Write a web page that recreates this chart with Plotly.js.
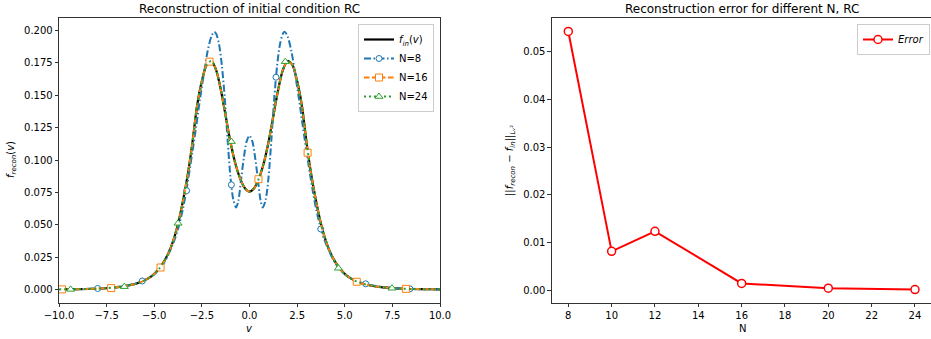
<!DOCTYPE html>
<html>
<head>
<meta charset="utf-8">
<script src="https://cdn.plot.ly/plotly-3.0.1.min.js"></script>
<style>html,body{margin:0;padding:0;background:#fff;}#chart{width:931px;height:339px;}</style>
</head>
<body>
<div id="chart"></div>
<script>
// ---- data ----
// reference distribution f_in(v)
const vIn = [-10,-9.5,-9,-8.5,-8,-7.5,-7,-6.5,-6,-5.75,-5.5,-5.25,-5,-4.75,-4.5,-4.25,-4,-3.75,-3.5,-3.25,-3,-2.75,-2.5,-2.25,-2,-1.75,-1.5,-1.25,-1,-0.75,-0.5,-0.25,0,
             0.25,0.5,0.75,1,1.25,1.5,1.75,2,2.25,2.5,2.75,3,3.25,3.5,3.75,4,4.25,4.5,4.75,5,5.25,5.5,5.75,6,6.5,7,7.5,8,8.5,9,9.5,10];
const fIn = [0.0003,0.0004,0.0005,0.0006,0.0009,0.0013,0.0019,0.0029,0.0045,0.0057,0.0073,0.0094,0.0123,0.0162,0.0215,0.0285,0.0380,0.0510,0.0680,0.0880,0.1130,0.1420,0.1610,0.1735,0.1765,0.1695,0.1540,0.1340,0.1140,0.0978,0.0862,0.0785,0.0757,
             0.0785,0.0862,0.0978,0.1140,0.1340,0.1540,0.1695,0.1765,0.1735,0.1610,0.1420,0.1130,0.0880,0.0680,0.0510,0.0380,0.0285,0.0215,0.0162,0.0123,0.0094,0.0073,0.0057,0.0045,0.0029,0.0019,0.0013,0.0009,0.0006,0.0005,0.0004,0.0003];
// N=8 reconstruction
const v8 = [-10,-9,-8,-7,-6.1,-5.6,-5,-4.5,-4,-3.75,-3.5,-3.3,-3,-2.8,-2.6,-2.4,-2.2,-2,-1.85,-1.75,-1.6,-1.45,-1.3,-1.15,-1,-0.85,-0.7,-0.58,-0.45,-0.3,-0.15,0,
            0.15,0.3,0.45,0.58,0.7,0.85,1,1.15,1.3,1.45,1.6,1.75,1.85,2,2.2,2.4,2.6,2.8,3,3.3,3.5,3.75,4,4.5,5,5.6,6.1,7,8,9,10];
const f8 = [0.0003,0.0005,0.0010,0.0020,0.0046,0.0068,0.0120,0.0205,0.0360,0.0470,0.0620,0.0780,0.1060,0.1260,0.1470,0.1660,0.1840,0.1955,0.1990,0.1975,0.1895,0.1730,0.1480,0.1160,0.0870,0.0695,0.0635,0.0690,0.0840,0.1015,0.1145,0.1190,
            0.1145,0.1015,0.0840,0.0690,0.0635,0.0695,0.0870,0.1160,0.1480,0.1730,0.1895,0.1975,0.1990,0.1955,0.1840,0.1660,0.1470,0.1260,0.1060,0.0780,0.0620,0.0470,0.0360,0.0205,0.0120,0.0068,0.0046,0.0020,0.0010,0.0005,0.0003];
// N=16 and N=24 reconstructions (overlap f_in in the picture)
const v16 = vIn.slice();
const f16 = [0.0003,0.0004,0.0005,0.0006,0.0009,0.0013,0.0019,0.0029,0.0045,0.0057,0.0073,0.0094,0.0123,0.0162,0.0215,0.0285,0.0380,0.0510,0.0680,0.0880,0.1130,0.1420,0.1610,0.1735,0.1765,0.1695,0.1540,0.1340,0.1140,0.0978,0.0862,0.0785,0.0757,
             0.0785,0.0862,0.0978,0.1140,0.1340,0.1540,0.1695,0.1765,0.1735,0.1610,0.1420,0.1130,0.0880,0.0680,0.0510,0.0380,0.0285,0.0215,0.0162,0.0123,0.0094,0.0073,0.0057,0.0045,0.0029,0.0019,0.0013,0.0009,0.0006,0.0005,0.0004,0.0003];
const v24 = vIn.slice();
const f24 = [0.0003,0.0004,0.0005,0.0006,0.0009,0.0013,0.0019,0.0029,0.0045,0.0057,0.0073,0.0094,0.0123,0.0162,0.0215,0.0285,0.0380,0.0510,0.0680,0.0880,0.1130,0.1420,0.1610,0.1735,0.1765,0.1695,0.1540,0.1340,0.1140,0.0978,0.0862,0.0785,0.0757,
             0.0785,0.0862,0.0978,0.1140,0.1340,0.1540,0.1695,0.1765,0.1735,0.1610,0.1420,0.1130,0.0880,0.0680,0.0510,0.0380,0.0285,0.0215,0.0162,0.0123,0.0094,0.0073,0.0057,0.0045,0.0029,0.0019,0.0013,0.0009,0.0006,0.0005,0.0004,0.0003];
// marker positions
const mk8v = [-7.97,-5.63,-3.30,-0.95,1.39,3.74,6.10,8.42];
const mk8f = [0.0010,0.0068,0.0765,0.0810,0.1640,0.0469,0.0046,0.0007];
const mk16v = [-9.84,-7.26,-4.67,-2.10,0.47,3.05,5.63,8.21];
const mk16f = [0.0003,0.0013,0.0172,0.1760,0.0853,0.1058,0.0062,0.0007];
const mk24v = [-9.39,-6.57,-3.75,-0.95,1.88,4.67,7.48];
const mk24f = [0.0003,0.0024,0.0513,0.1143,0.1760,0.0166,0.0012];
// error vs N
const errN = [8,10,12,16,20,24];
const errVal = [0.0542,0.0082,0.0124,0.0015,0.0005,0.0002];

const xTicksL = [-10,-7.5,-5,-2.5,0,2.5,5,7.5,10];
const yTicksL = [0,0.025,0.05,0.075,0.1,0.125,0.15,0.175,0.2];
const xTicksR = [8,10,12,14,16,18,20,22,24];
const yTicksR = [0,0.01,0.02,0.03,0.04,0.05];

const BLUE='#1f77b4', ORANGE='#ff7f0e', GREEN='#2ca02c';
const W=931, H=339;
const px = x => x / W, py = y => (H - y) / H;

const traces = [
  {x:vIn, y:fIn, mode:'lines', line:{color:'black', width:2.2, shape:'spline', smoothing:0.8}, showlegend:false, xaxis:'x', yaxis:'y'},
  {x:v8, y:f8, mode:'lines', line:{color:BLUE, width:2, dash:'7px,2.5px,1.5px,2.5px', shape:'spline', smoothing:0.8}, showlegend:false, xaxis:'x', yaxis:'y'},
  {x:mk8v, y:mk8f, mode:'markers', marker:{symbol:'circle', size:6, color:'white', line:{color:BLUE, width:1}}, showlegend:false, xaxis:'x', yaxis:'y'},
  {x:v16, y:f16, mode:'lines', line:{color:ORANGE, width:2, dash:'5.5px,2.5px', shape:'spline', smoothing:0.8}, showlegend:false, xaxis:'x', yaxis:'y'},
  {x:mk16v, y:mk16f, mode:'markers', marker:{symbol:'square', size:7, color:'white', line:{color:ORANGE, width:1}}, showlegend:false, xaxis:'x', yaxis:'y'},
  {x:v24, y:f24, mode:'lines', line:{color:GREEN, width:2, dash:'2px,3px', shape:'spline', smoothing:0.8}, showlegend:false, xaxis:'x', yaxis:'y'},
  {x:mk24v, y:mk24f, mode:'markers', marker:{symbol:'triangle-up', size:7, color:'white', line:{color:GREEN, width:1}}, showlegend:false, xaxis:'x', yaxis:'y'},
  // legend entries
  {x:[null], y:[null], mode:'lines', name:'<i>f</i><sub><i>in</i></sub>(<i>v</i>)', line:{color:'black', width:2.2}, xaxis:'x', yaxis:'y', legend:'legend'},
  {x:[null], y:[null], mode:'lines+markers', name:'N=8', line:{color:BLUE, width:2, dash:'7px,2.5px,1.5px,2.5px'}, marker:{symbol:'circle', size:6, color:'white', line:{color:BLUE, width:1}}, xaxis:'x', yaxis:'y', legend:'legend'},
  {x:[null], y:[null], mode:'lines+markers', name:'N=16', line:{color:ORANGE, width:2, dash:'5.5px,2.5px'}, marker:{symbol:'square', size:7, color:'white', line:{color:ORANGE, width:1}}, xaxis:'x', yaxis:'y', legend:'legend'},
  {x:[null], y:[null], mode:'lines+markers', name:'N=24', line:{color:GREEN, width:2, dash:'2px,3px'}, marker:{symbol:'triangle-up', size:7, color:'white', line:{color:GREEN, width:1}}, xaxis:'x', yaxis:'y', legend:'legend'},
  // error plot
  {x:errN, y:errVal, mode:'lines+markers', name:'<i>Error</i>', line:{color:'red', width:2}, marker:{symbol:'circle', size:8, color:'white', line:{color:'red', width:1.5}}, xaxis:'x2', yaxis:'y2', legend:'legend2'}
];

const axBase = {showgrid:false, zeroline:false, ticks:'outside', ticklen:3.5, tickwidth:0.8, tickcolor:'black',
  linecolor:'black', linewidth:0.8, showline:true, tickfont:{size:10, color:'black'}, fixedrange:true};

const layout = {
  width:W, height:H, margin:{l:0, r:0, t:0, b:0}, paper_bgcolor:'white', plot_bgcolor:'white',
  font:{family:'DejaVu Sans', size:10, color:'black'},
  xaxis: Object.assign({}, axBase, {domain:[px(59), px(440)], range:[-10,10], tickmode:'array', tickvals:xTicksL, ticktext:xTicksL.map(t=>t.toFixed(1).replace('-','\u2212')), mirror:true, anchor:'y'}),
  yaxis: Object.assign({}, axBase, {domain:[py(303), py(18)], range:[-0.0102,0.2097], tickmode:'array', tickvals:yTicksL, ticktext:yTicksL.map(t=>t.toFixed(3)), mirror:true, anchor:'x'}),
  xaxis2: Object.assign({}, axBase, {domain:[px(551.7), 1], range:[7.234,24.74], tickmode:'array', tickvals:xTicksR, ticktext:xTicksR.map(String), mirror:true, anchor:'y2'}),
  yaxis2: Object.assign({}, axBase, {domain:[py(303), py(18)], range:[-0.0026,0.05702], tickmode:'array', tickvals:yTicksR, ticktext:yTicksR.map(t=>t.toFixed(2)), mirror:false, anchor:'x2'}),
  legend: {x:px(434), y:py(24), xanchor:'right', yanchor:'top', bgcolor:'rgba(255,255,255,0.8)', bordercolor:'#cccccc', borderwidth:1, font:{size:10}, tracegroupgap:0, itemwidth:30},
  legend2: {x:px(930), y:py(24), xanchor:'right', yanchor:'top', bgcolor:'rgba(255,255,255,0.8)', bordercolor:'#cccccc', borderwidth:1, font:{size:10}, itemwidth:30},
  annotations: [
    {text:'Reconstruction of initial condition RC', x:px(249.5), y:py(9), xref:'paper', yref:'paper', showarrow:false, font:{size:12}, xanchor:'center', yanchor:'middle'},
    {text:'Reconstruction error for different N, RC', x:px(742), y:py(9), xref:'paper', yref:'paper', showarrow:false, font:{size:12}, xanchor:'center', yanchor:'middle'},
    {text:'<i>v</i>', x:px(249.5), y:py(328), xref:'paper', yref:'paper', showarrow:false, font:{size:10}, xanchor:'center', yanchor:'middle'},
    {text:'N', x:px(742), y:py(328), xref:'paper', yref:'paper', showarrow:false, font:{size:10}, xanchor:'center', yanchor:'middle'},
    {text:'<i>f</i><sub><i>recon</i></sub>(<i>v</i>)', x:px(11), y:py(160), xref:'paper', yref:'paper', showarrow:false, font:{size:10}, textangle:-90, xanchor:'center', yanchor:'middle'},
    {text:'||<i>f</i><sub><i>recon</i></sub> \u2212 <i>f</i><sub><i>in</i></sub>||<sub><i>L</i>\u1D65\u00B2</sub>', x:px(510), y:py(160), xref:'paper', yref:'paper', showarrow:false, font:{size:10}, textangle:-90, xanchor:'center', yanchor:'middle'}
  ]
};

Plotly.newPlot('chart', traces, layout, {displayModeBar:false, staticPlot:true});
</script>
</body>
</html>
